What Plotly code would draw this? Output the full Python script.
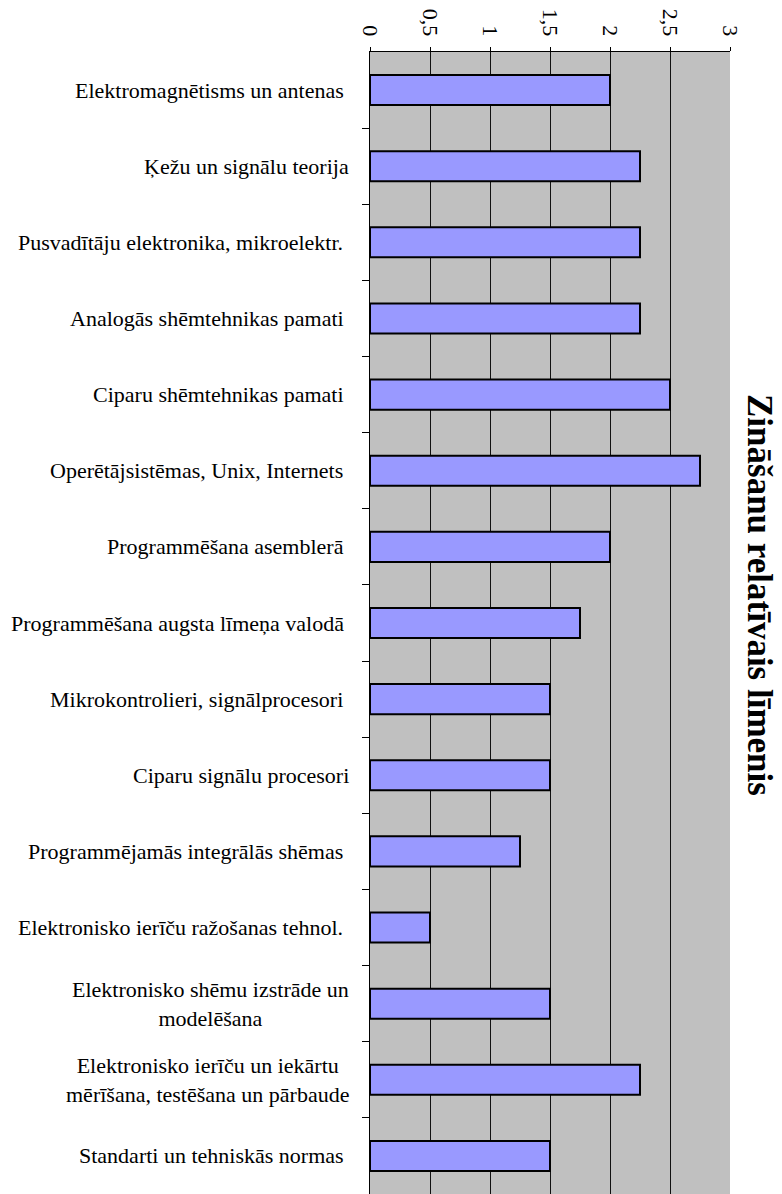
import plotly.graph_objects as go

categories = [
    "Elektromagnētisms un antenas ",
    "Ķežu un signālu teorija",
    "Pusvadītāju elektronika, mikroelektr. ",
    "Analogās shēmtehnikas pamati ",
    "Ciparu shēmtehnikas pamati ",
    "Operētājsistēmas, Unix, Internets ",
    "Programmēšana asemblerā ",
    "Programmēšana augsta līmeņa valodā ",
    "Mikrokontrolieri, signālprocesori ",
    "Ciparu signālu procesori",
    "Programmējamās integrālās shēmas ",
    "Elektronisko ierīču ražošanas tehnol. ",
    "Elektronisko shēmu izstrāde un<br>modelēšana",
    "Elektronisko ierīču un iekārtu<br>mērīšana, testēšana un pārbaude",
    "Standarti un tehniskās normas ",
]
values = [2.0, 2.25, 2.25, 2.25, 2.5, 2.75, 2.0, 1.75, 1.5, 1.5, 1.25, 0.5, 1.5, 2.25, 1.5]
x_ticks = [0, 0.5, 1, 1.5, 2, 2.5, 3]
title_text = "Zināšanu relatīvais līmenis"

FONT = "Liberation Serif, Times New Roman, serif"

fig = go.Figure()
fig.add_trace(go.Bar(
    y=list(range(len(categories))),
    x=values,
    orientation="h",
    marker=dict(color="#9999FF", line=dict(color="black", width=2)),
    width=0.395,
    hoverinfo="skip",
))

for i, c in enumerate(categories):
    txt = c.rstrip(" ")
    if c.endswith(" "):
        txt = txt + "\u00a0"
    fig.add_annotation(
        x=0, xref="paper", y=i, yref="y",
        text=txt, showarrow=False,
        xanchor="right", yanchor="middle", align="center",
        xshift=-19,
        font=dict(family=FONT, size=22, color="black"),
    )

fig.add_annotation(
    x=(760 - 370) / 360, xref="paper",
    y=1 - (595 - 52) / 1142, yref="paper",
    text="<b>" + title_text + "</b>", textangle=90, showarrow=False,
    xanchor="center", yanchor="middle",
    font=dict(family=FONT, size=35, color="black"),
)

fig.update_layout(
    width=782, height=1194,
    margin=dict(l=370, r=52, t=52, b=0),
    paper_bgcolor="white",
    plot_bgcolor="#C0C0C0",
    separators=",.",
    showlegend=False,
    font=dict(family=FONT, size=22, color="black"),
    xaxis=dict(
        side="top", range=[0, 3], tickvals=x_ticks,
        tickangle=90, ticks="outside", ticklen=4, tickcolor="black",
        ticklabelstandoff=3,
        showgrid=True, gridcolor="#111111", gridwidth=1,
        showline=True, linecolor="black", linewidth=1,
        zeroline=False,
        tickfont=dict(family=FONT, size=22, color="black"),
    ),
    yaxis=dict(
        range=[len(categories) - 0.5, -0.5],
        tickvals=[i + 0.5 for i in range(len(categories) - 1)],
        showticklabels=False,
        ticks="outside", ticklen=7, tickcolor="black",
        showgrid=False, zeroline=False,
        showline=True, linecolor="black", linewidth=1,
    ),
)

fig.write_html(
    "out.html",
    config={"displayModeBar": False},
    post_script="document.body.style.margin='0px';document.body.style.overflow='hidden';",
)
